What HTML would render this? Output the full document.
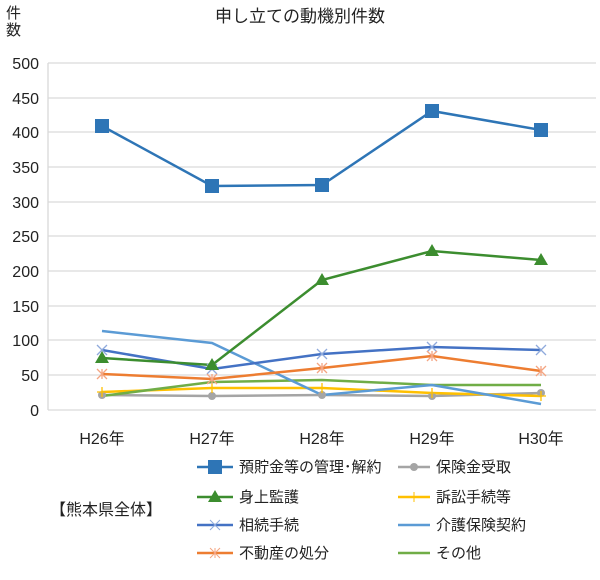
<!DOCTYPE html>
<html><head><meta charset="utf-8"><style>
body{margin:0;background:#fff;}
svg text{font-family:"Liberation Sans","Noto Sans CJK JP",sans-serif;fill:#222;}
</style></head><body>
<svg width="600" height="575" viewBox="0 0 600 575" xmlns="http://www.w3.org/2000/svg">
<text x="300" y="22" font-size="17" text-anchor="middle">申し立ての動機別件数</text>
<text x="6" y="18" font-size="15">件</text>
<text x="6" y="35" font-size="15">数</text>
<g stroke="#d9d9d9" stroke-width="1.3">
<line x1="48" y1="63" x2="596" y2="63"/><line x1="48" y1="98" x2="596" y2="98"/><line x1="48" y1="132" x2="596" y2="132"/><line x1="48" y1="167" x2="596" y2="167"/><line x1="48" y1="202" x2="596" y2="202"/><line x1="48" y1="236" x2="596" y2="236"/><line x1="48" y1="271" x2="596" y2="271"/><line x1="48" y1="306" x2="596" y2="306"/><line x1="48" y1="340" x2="596" y2="340"/><line x1="48" y1="375" x2="596" y2="375"/><line x1="48" y1="410" x2="596" y2="410"/>
<line x1="48" y1="63" x2="48" y2="410"/>
</g>
<g font-size="16" text-anchor="end">
<text x="39" y="69">500</text><text x="39" y="104">450</text><text x="39" y="138">400</text><text x="39" y="173">350</text><text x="39" y="208">300</text><text x="39" y="242">250</text><text x="39" y="277">200</text><text x="39" y="312">150</text><text x="39" y="346">100</text><text x="39" y="381">50</text><text x="39" y="416">0</text>
</g>
<g font-size="16" text-anchor="middle">
<text x="102" y="444">H26年</text><text x="212" y="444">H27年</text><text x="322" y="444">H28年</text><text x="432" y="444">H29年</text><text x="541" y="444">H30年</text>
</g>
<g fill="none" stroke-width="2.5">
<polyline stroke="#a5a5a5" points="102,395 212,396 322,395 432,396 541,393"/>
<polyline stroke="#ffc000" points="102,392 212,388 322,388 432,393 541,396"/>
<polyline stroke="#70ad47" points="102,396 212,382 322,380 432,385 541,385"/>
<polyline stroke="#5b9bd5" points="102,331 212,343 322,395 432,385 541,404"/>
<polyline stroke="#ed7d31" points="102,374 212,379 322,368 432,356 541,371"/>
<polyline stroke="#4472c4" points="102,350 212,369 322,354 432,347 541,350"/>
<polyline stroke="#3c8d2f" points="102,358 212,365 322,280 432,251 541,260"/>
<polyline stroke="#2e75b6" points="102,126 212,186 322,185 432,111 541,130"/>
</g>
<g fill="#a5a5a5"><circle cx="102" cy="395" r="4"/><circle cx="212" cy="396" r="4"/><circle cx="322" cy="395" r="4"/><circle cx="432" cy="396" r="4"/><circle cx="541" cy="393" r="4"/></g>
<g stroke="#ffc000" stroke-width="1.3"><path d="M97 392h10M102 387v10M207 388h10M212 383v10M317 388h10M322 383v10M427 393h10M432 388v10M536 396h10M541 391v10"/></g>
<g stroke="#8faadc" stroke-width="1.3"><path d="M97 345l10 10M97 355l10-10M207 364l10 10M207 374l10-10M317 349l10 10M317 359l10-10M427 342l10 10M427 352l10-10M536 345l10 10M536 355l10-10"/></g>
<g stroke="#f4a582" stroke-width="1.3"><path d="M97 369l10 10M97 379l10-10M102 369v10M207 374l10 10M207 384l10-10M212 374v10M317 363l10 10M317 373l10-10M322 363v10M427 351l10 10M427 361l10-10M432 351v10M536 366l10 10M536 376l10-10M541 366v10"/></g>
<g fill="#3c8d2f"><path d="M102 351l7 12h-14z"/><path d="M212 358l7 12h-14z"/><path d="M322 273l7 12h-14z"/><path d="M432 244l7 12h-14z"/><path d="M541 253l7 12h-14z"/></g>
<g fill="#2e75b6"><rect x="95" y="119" width="14" height="14"/><rect x="205" y="179" width="14" height="14"/><rect x="315" y="178" width="14" height="14"/><rect x="425" y="104" width="14" height="14"/><rect x="534" y="123" width="14" height="14"/></g>
<g font-size="15">
<line x1="197" y1="467" x2="233" y2="467" stroke="#2e75b6" stroke-width="2.5"/><rect x="208" y="460" width="14" height="14" fill="#2e75b6"/><text x="239" y="472">預貯金等の管理･解約</text>
<line x1="197" y1="497" x2="233" y2="497" stroke="#3c8d2f" stroke-width="2.5"/><path d="M215 490l7 12h-14z" fill="#3c8d2f"/><text x="239" y="502">身上監護</text>
<line x1="197" y1="525" x2="233" y2="525" stroke="#4472c4" stroke-width="2.5"/><path d="M210 520l10 10M210 530l10-10" stroke="#8faadc"/><text x="239" y="530">相続手続</text>
<line x1="197" y1="553" x2="233" y2="553" stroke="#ed7d31" stroke-width="2.5"/><path d="M210 548l10 10M210 558l10-10M215 548v10" stroke="#f4a582"/><text x="239" y="558">不動産の処分</text>
<line x1="398" y1="467" x2="430" y2="467" stroke="#a5a5a5" stroke-width="2.5"/><circle cx="414" cy="467" r="4" fill="#a5a5a5"/><text x="436" y="472">保険金受取</text>
<line x1="398" y1="497" x2="430" y2="497" stroke="#ffc000" stroke-width="2.5"/><path d="M414 492v10" stroke="#ffc000"/><text x="436" y="502">訴訟手続等</text>
<line x1="398" y1="525" x2="430" y2="525" stroke="#5b9bd5" stroke-width="2.5"/><text x="436" y="530">介護保険契約</text>
<line x1="398" y1="553" x2="430" y2="553" stroke="#70ad47" stroke-width="2.5"/><text x="436" y="558">その他</text>
</g>
<text x="50" y="515" font-size="16">【熊本県全体】</text>
</svg>
</body></html>
